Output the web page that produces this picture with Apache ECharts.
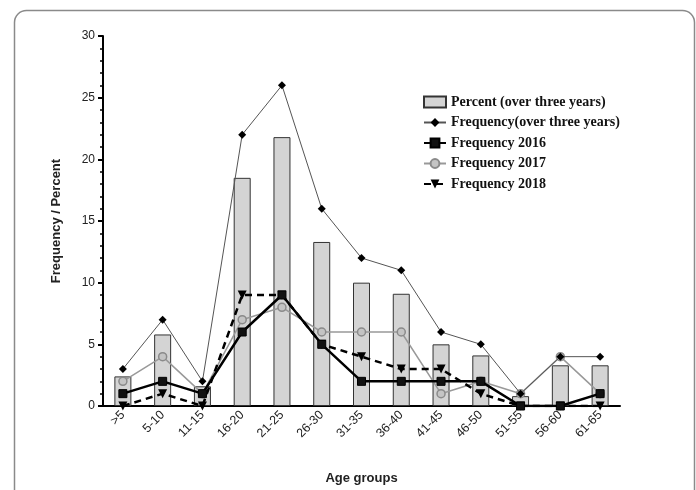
<!DOCTYPE html>
<html>
<head>
<meta charset="utf-8">
<script src="https://cdn.jsdelivr.net/npm/echarts@6/dist/echarts.min.js"></script>
<style>html,body{margin:0;padding:0;background:#fff}#c{width:696px;height:490px}</style>
</head>
<body>
<div id="c"></div>
<script>
var categories = ['>5','5-10','11-15','16-20','21-25','26-30','31-35','36-40','41-45','46-50','51-55','56-60','61-65'];
var percentAll = [2.4, 5.8, 1.6, 18.5, 21.8, 13.3, 10.0, 9.1, 5.0, 4.1, 0.8, 3.3, 3.3];
var freqAll = [3, 7, 2, 22, 26, 16, 12, 11, 6, 5, 1, 4, 4];
var freq2016 = [1, 2, 1, 6, 9, 5, 2, 2, 2, 2, 0, 0, 1];
var freq2017 = [2, 4, 1, 7, 8, 6, 6, 6, 1, 2, 1, 4, 1];
var freq2018 = [0, 1, 0, 9, 9, 5, 4, 3, 3, 1, 0, 0, 0];
var yTicks = {min: 0, max: 30, interval: 5};

var chart = echarts.init(document.getElementById('c'), null, {renderer: 'canvas'});
var sans = 'Liberation Sans, Arial, sans-serif';
var serif = 'Liberation Serif, Times New Roman, serif';
chart.setOption({
  animation: false,
  backgroundColor: '#fff',
  graphic: [{
    type: 'rect', left: 12, top: 8, silent: true,
    shape: {width: 680, height: 500, r: 12},
    style: {fill: 'none', stroke: '#8a8a8a', lineWidth: 1.5}
  }],
  grid: {left: 103, right: 76, top: 36, bottom: 83},
  legend: {
    orient: 'vertical', left: 418, top: 90, itemGap: 6.5,
    itemWidth: 22, itemHeight: 11,
    textStyle: {fontFamily: serif, fontWeight: 'bold', fontSize: 14, color: '#111'},
    data: [
      {name: 'Percent (over three years)', icon: 'rect'},
      'Frequency(over three years)', 'Frequency 2016', 'Frequency 2017', 'Frequency 2018'
    ]
  },
  xAxis: {
    type: 'category', data: categories,
    name: 'Age groups', nameLocation: 'middle', nameGap: 66,
    nameTextStyle: {fontFamily: sans, fontWeight: 'bold', fontSize: 13, color: '#222'},
    axisLine: {lineStyle: {color: '#000', width: 2}},
    axisTick: {alignWithLabel: true, length: 5, lineStyle: {color: '#000', width: 2}},
    axisLabel: {rotate: 45, fontFamily: sans, fontSize: 12.5, color: '#222', margin: 7}
  },
  yAxis: {
    type: 'value', min: yTicks.min, max: yTicks.max, interval: yTicks.interval,
    name: 'Frequency / Percent', nameLocation: 'middle', nameGap: 40,
    nameTextStyle: {fontFamily: sans, fontWeight: 'bold', fontSize: 13, color: '#222'},
    axisLine: {show: true, lineStyle: {color: '#000', width: 2}},
    axisTick: {show: true, length: 5, lineStyle: {color: '#000', width: 2}},
    minorTick: {show: true, splitNumber: 5, length: 3, lineStyle: {color: '#000', width: 1.5}},
    splitLine: {show: false},
    axisLabel: {fontFamily: sans, fontSize: 12, color: '#222', margin: 8}
  },
  series: [
    {
      name: 'Percent (over three years)', type: 'bar', data: percentAll, barWidth: 17,
      itemStyle: {color: '#d4d4d4', borderColor: '#333', borderWidth: 1}, z: 1
    },
    {
      name: 'Frequency(over three years)', type: 'line', data: freqAll,
      symbol: 'diamond', symbolSize: 8,
      lineStyle: {color: '#555', width: 1}, itemStyle: {color: '#000'}, z: 6
    },
    {
      name: 'Frequency 2016', type: 'line', data: freq2016,
      symbol: 'rect', symbolSize: 8,
      lineStyle: {color: '#000', width: 2.5}, itemStyle: {color: '#111', borderColor: '#000', borderWidth: 1}, z: 5
    },
    {
      name: 'Frequency 2017', type: 'line', data: freq2017,
      symbol: 'circle', symbolSize: 8,
      lineStyle: {color: '#999', width: 1.5}, itemStyle: {color: '#c4c4c4', borderColor: '#8a8a8a', borderWidth: 1.5}, z: 4
    },
    {
      name: 'Frequency 2018', type: 'line', data: freq2018,
      symbol: 'triangle', symbolRotate: 180, symbolSize: 9,
      lineStyle: {color: '#000', width: 2.5, type: [7, 5]}, itemStyle: {color: '#000'}, z: 4
    }
  ]
});
</script>
</body>
</html>
